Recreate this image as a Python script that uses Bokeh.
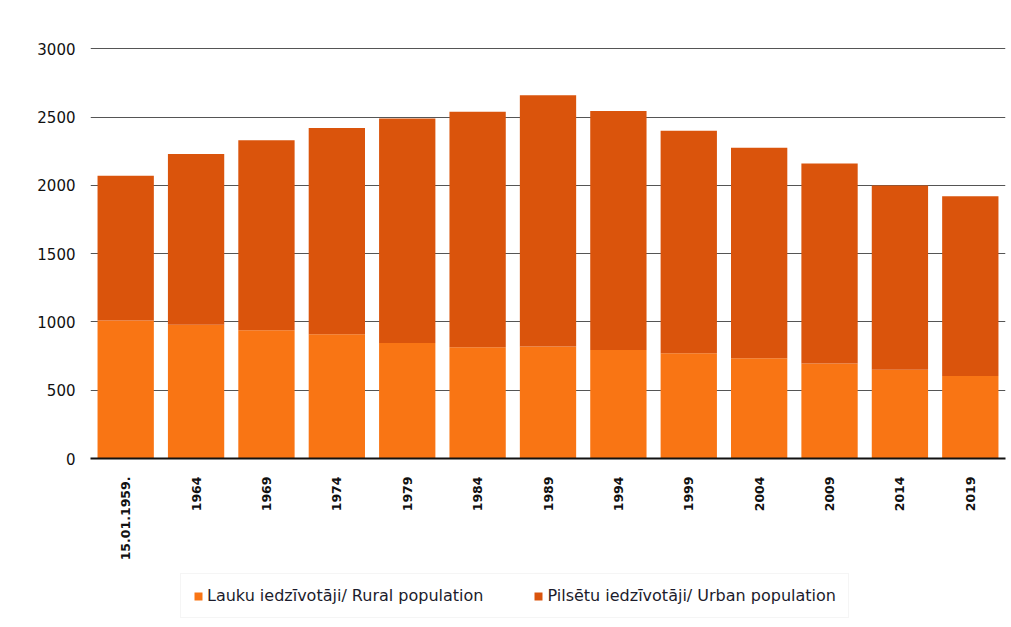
from bokeh.plotting import figure
from bokeh.layouts import column
from bokeh.models import FixedTicker, Legend, LegendItem, ColumnDataSource, Range1d, FactorRange
from bokeh.embed import file_html
from bokeh.resources import INLINE
import math

# Population of Latvia, thousands
years = ["15.01.1959.", "1964", "1969", "1974", "1979", "1984", "1989",
         "1994", "1999", "2004", "2009", "2014", "2019"]
total = [2070, 2230, 2330, 2420, 2490, 2540, 2660, 2545, 2400, 2275, 2160, 2000, 1920]
rural = [1010, 980, 940, 910, 845, 815, 820, 795, 770, 735, 695, 650, 605]
urban = [t - r for t, r in zip(total, rural)]

y_ticks = [0, 500, 1000, 1500, 2000, 2500, 3000]

series_labels = ["Lauku iedzīvotāji/ Rural population",
                 "Pilsētu iedzīvotāji/ Urban population"]

RURAL_COLOR = "#F97514"
URBAN_COLOR = "#DA540C"
FONT = "DejaVu Sans"

source = ColumnDataSource(dict(year=years, rural=rural, urban=urban))

# --- main chart -------------------------------------------------------------
p = figure(
    x_range=years, y_range=(0, 3010),
    width=1011, height=566,
    output_backend="svg", toolbar_location=None,
    min_border_left=90, min_border_right=6, min_border_top=47,
    min_border_bottom=108,
)
p.x_range.range_padding = 0

p.vbar_stack(
    ["rural", "urban"], x="year", width=0.8, source=source,
    color=[RURAL_COLOR, URBAN_COLOR], line_color=None,
)

p.outline_line_color = None
p.xgrid.grid_line_color = None
p.ygrid.grid_line_color = "#555555"
p.ygrid.grid_line_width = 1

p.yaxis.ticker = FixedTicker(ticks=y_ticks)
p.yaxis.axis_line_color = None
p.yaxis.major_tick_line_color = None
p.yaxis.minor_tick_line_color = None
p.yaxis.major_label_standoff = 9
p.yaxis.major_label_text_font = FONT
p.yaxis.major_label_text_font_size = "15px"
p.yaxis.major_label_text_color = "#111111"

p.xaxis.axis_line_color = "#111111"
p.xaxis.axis_line_width = 2
p.xaxis.major_tick_line_color = None
p.xaxis.minor_tick_line_color = None
p.xaxis.major_label_orientation = math.pi / 2
p.xaxis.major_label_standoff = 12
p.xaxis.major_label_text_font = FONT
p.xaxis.major_label_text_font_size = "12.5px"
p.xaxis.major_label_text_font_style = "bold"
p.xaxis.major_label_text_color = "#111111"

# --- legend strip underneath --------------------------------------------------
# Zero-width copies of the series carry the fill styles for the legend swatches
# without drawing any bars in this strip.
leg = figure(
    width=1011, height=61,
    x_range=FactorRange(*years), y_range=Range1d(-2, -1),
    output_backend="svg", toolbar_location=None,
    x_axis_location=None, y_axis_location=None,
    min_border=0,
)
leg.outline_line_color = None
leg.grid.grid_line_color = None
leg_renderers = leg.vbar_stack(
    ["rural", "urban"], x="year", width=0, source=source,
    color=[RURAL_COLOR, URBAN_COLOR], line_color=None,
)

legend = Legend(
    items=[
        LegendItem(label=series_labels[0], renderers=[leg_renderers[0]]),
        LegendItem(label=series_labels[1], renderers=[leg_renderers[1]]),
    ],
    orientation="horizontal",
    location=(90, 9),
    glyph_width=10, glyph_height=10,
    label_standoff=4, spacing=50,
    label_text_font=FONT, label_text_font_size="16px",
    label_text_color="#1c1c2c",
    border_line_color="#ececec",
    padding=12, margin=0,
)
leg.add_layout(legend, "center")

layout = column(p, leg, spacing=0)

open("out.html", "w").write(file_html(layout, INLINE))
